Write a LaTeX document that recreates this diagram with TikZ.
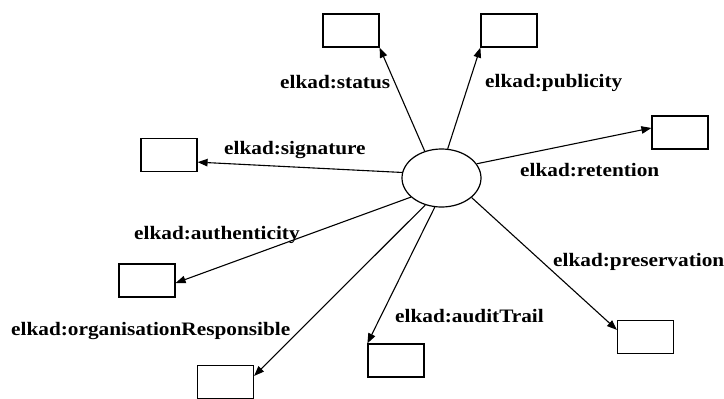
\documentclass[tikz,border=0pt]{standalone}
\usepackage{fontspec}
\setmainfont{Liberation Serif}[FakeStretch=1.12]
\usetikzlibrary{shapes.geometric,arrows.meta}
\begin{document}
\begin{tikzpicture}[x=1pt,y=-1pt,
  res/.style={draw,line width=1.2pt,minimum width=56pt,minimum height=33pt,inner sep=0pt},
  blank/.style={draw,ellipse,line width=1.2pt,minimum width=79pt,minimum height=58pt,inner sep=0pt},
  prop/.style={inner sep=0pt,anchor=base west,font=\fontsize{19}{21}\selectfont\bfseries},
  rel/.style={line width=1.1pt,-{Triangle[length=10pt,width=7.5pt]}}]
\useasboundingbox (0,0) rectangle (724,399);

% central blank node
\node[blank] (e) at (441.5,178) {};

% property values
\node[res] (status)  at (351,30.5)  {};
\node[res] (public)  at (509,30.5)  {};
\node[res] (retain)  at (680,132.5) {};
\node[res] (sign)    at (169,155)   {};
\node[res] (auth)    at (147,280.5) {};
\node[res] (org)     at (225.5,382) {};
\node[res] (audit)   at (396,360.5) {};
\node[res] (preserv) at (645.5,337) {};

% properties
\draw[rel] (e.122.4) -- (status.south east);
\draw[rel] (e.78.9)  -- (public.south west);
\draw[rel] (e.22.6)  -- (retain.171);
\draw[rel] (e.172.8) -- (sign.346);
\draw[rel] (e.212.8) -- (auth.355);
\draw[rel] (e.239.5) -- (org.12);
\draw[rel] (e.257.4) -- (audit.north west);
\draw[rel] (e.327.2) -- (preserv.166);

% property names
\node[prop] (lstatus)  at (280,88)  {elkad:status};
\node[prop] (lpublic)  at (485,87)  {elkad:publicity};
\node[prop] (lsign)    at (224,154) {elkad:signature};
\node[prop] (lretain)  at (520,176) {elkad:retention};
\node[prop] (lauth)    at (134,239) {elkad:authenticity};
\node[prop] (lorg)     at (11,335)  {elkad:organisationResponsible};
\node[prop] (laudit)   at (395,322) {elkad:auditTrail};
\node[prop] (lpreserv) at (553,266) {elkad:preservation};
\end{tikzpicture}
\end{document}
